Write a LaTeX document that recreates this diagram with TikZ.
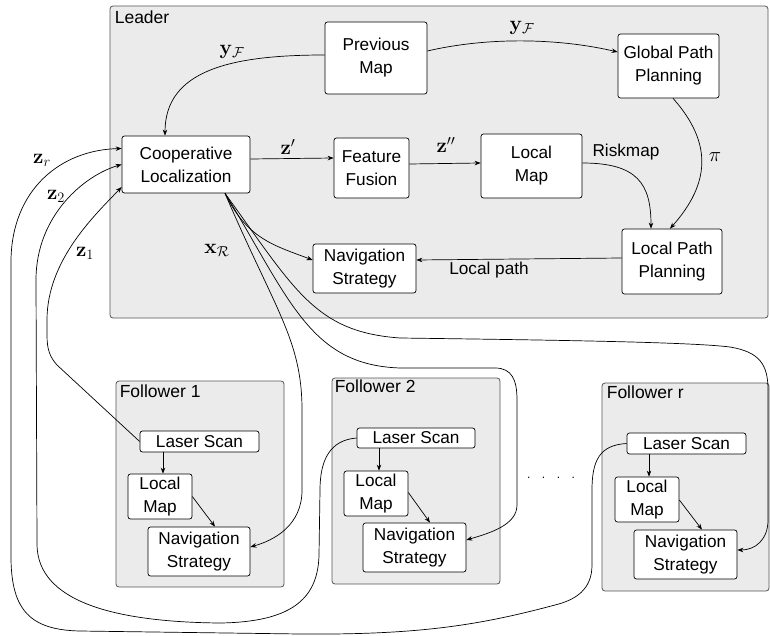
\documentclass[tikz,border=0pt]{standalone}
\usepackage[no-math]{fontspec}
\setmainfont{Liberation Sans}
\usetikzlibrary{arrows.meta,calc}
\definecolor{grpfill}{RGB}{235,235,235}
\definecolor{grpdraw}{RGB}{85,85,85}
\begin{document}
\begin{tikzpicture}[x=1pt,y=-1pt,
 grp/.style={draw=grpdraw, fill=grpfill, rounded corners=3pt, line width=0.8pt, inner sep=0pt},
 bx/.style={draw=black, fill=white, rounded corners=2.5pt, line width=0.7pt, inner sep=0pt, align=center, font=\fontsize{17.2}{23}\selectfont},
 glbl/.style={anchor=base west, inner sep=0pt, font=\fontsize{17.5}{20}\selectfont},
 mlbl/.style={inner sep=0pt, font=\fontsize{22.5}{24}\selectfont},
 tlbl/.style={inner sep=0pt, font=\fontsize{17.2}{20}\selectfont},
 arr/.style={-{Stealth[length=6pt,width=4.5pt]}, line width=0.7pt},
 ln/.style={line width=0.7pt},
]
\useasboundingbox (0,0) rectangle (770,636);

% groups
\node[grp, minimum width=658pt, minimum height=312pt] (leader) at (439,162) {};
\node[grp, minimum width=168pt, minimum height=206pt] (f1) at (200,484) {};
\node[grp, minimum width=168pt, minimum height=206pt] (f2) at (416,481) {};
\node[grp, minimum width=167pt, minimum height=208pt] (fr) at (685.5,487) {};

\node[glbl] (leaderlbl) at ([xshift=5pt,yshift=-18pt]leader.north west) {Leader};
\node[glbl] (f1lbl) at ([xshift=4pt,yshift=-17pt]f1.north west) {Follower 1};
\node[glbl] (f2lbl) at ([xshift=3pt,yshift=-15pt]f2.north west) {Follower 2};
\node[glbl] (frlbl) at ([xshift=5pt,yshift=-16pt]fr.north west) {Follower r};

% leader boxes
\node[bx, minimum width=102pt, minimum height=72pt] (prev) at (376,58) {Previous\\Map};
\node[bx, minimum width=101pt, minimum height=64pt] (gpp) at (668.5,66) {Global Path\\Planning};
\node[bx, minimum width=128pt, minimum height=57pt] (coop) at (186,164.5) {Cooperative\\Localization};
\node[bx, minimum width=75pt, minimum height=60pt] (ff) at (371.5,168) {Feature\\Fusion};
\node[bx, minimum width=101pt, minimum height=64pt] (lm) at (531.5,166) {Local\\Map};
\node[bx, minimum width=100pt, minimum height=65pt] (lpp) at (672,261.5) {Local Path\\Planning};
\node[bx, minimum width=103pt, minimum height=49pt] (ns) at (364.5,268.5) {Navigation\\Strategy};

% follower boxes
\node[bx, minimum width=119pt, minimum height=21pt] (ls1) at (199.5,441.5) {Laser Scan};
\node[bx, minimum width=64pt, minimum height=45pt] (lm1) at (160,496.5) {Local\\Map};
\node[bx, minimum width=102pt, minimum height=49pt] (ns1) at (199,551.5) {Navigation\\Strategy};

\node[bx, minimum width=118pt, minimum height=20pt] (ls2) at (416,438) {Laser Scan};
\node[bx, minimum width=64pt, minimum height=45pt] (lm2) at (376,493.5) {Local\\Map};
\node[bx, minimum width=103pt, minimum height=49pt] (ns2) at (414.5,547.5) {Navigation\\Strategy};

\node[bx, minimum width=119pt, minimum height=21pt] (lsr) at (686.5,443.5) {Laser Scan};
\node[bx, minimum width=64pt, minimum height=45pt] (lmr) at (647,499.5) {Local\\Map};
\node[bx, minimum width=103pt, minimum height=49pt] (nsr) at (685.5,554.5) {Navigation\\Strategy};

\node[inner sep=0pt, anchor=base, font=\fontsize{12}{14}\selectfont] (dots) at (551,478) {.\hspace{11.5pt}.\hspace{11.5pt}.\hspace{11.5pt}.};

% labels
\node[mlbl] (yf1) at (232,52) {$\mathbf{y}_{\mathcal{F}}$};
\node[mlbl] (yf2) at (522,28) {$\mathbf{y}_{\mathcal{F}}$};
\node[mlbl] (zp) at (288,147) {$\mathbf{z}'$};
\node[mlbl] (zpp) at (446,145) {$\mathbf{z}''$};
\node[tlbl] (risk) at (626,152) {Riskmap};
\node[mlbl] (pi) at (715,157) {$\pi$};
\node[tlbl] (lpath) at (489,270) {Local path};
\node[mlbl] (xr) at (217,250) {$\mathbf{x}_{\mathcal{R}}$};
\node[mlbl] (zrl) at (42,160) {$\mathbf{z}_r$};
\node[mlbl] (z2l) at (56,196) {$\mathbf{z}_2$};
\node[mlbl] (z1l) at (85,253) {$\mathbf{z}_1$};

% leader connectors
\coordinate (cs) at ([xshift=39pt]coop.south);
\draw[arr] ([yshift=3pt]prev.west) .. controls +(-95,0) and +(0,-65) .. ([xshift=-21pt]coop.north);
\draw[arr] ([yshift=7pt]prev.east) .. controls +(60,-14) and +(-60,-14) .. ([yshift=14pt]gpp.west);
\draw[arr] ([xshift=4.5pt]gpp.south) .. controls +(40,45) and +(40,-45) .. ([xshift=-2pt]lpp.north);
\draw[arr] ([yshift=3pt]lm.east) .. controls +(55,0) and +(0,-45) .. ([xshift=-21pt]lpp.north);
\draw[arr] ([yshift=5.5pt]coop.east) -- ([yshift=10pt]ff.west);
\draw[arr] ([yshift=4pt]ff.east) -- ([yshift=3pt]lm.west);
\draw[arr] ([yshift=3.5pt]lpp.west) -- ([yshift=8.5pt]ns.east);
\draw[arr] (cs) .. controls +(22,45) and +(-40,-15) .. ([yshift=8.5pt]ns.west);

% leader -> followers
\draw[arr] (cs) .. controls (275,310) and (302,340) .. (302,410) -- (302,490)
  .. controls (302,525) and (275,540) .. ([yshift=4.5pt]ns1.east);
\draw[arr] (cs) .. controls (290,300) and (310,365) .. (400,368) -- (495,368)
  .. controls (512,368) and (517,380) .. (517,400) -- (517,505)
  .. controls (517,525) and (490,533) .. ([yshift=7.5pt]ns2.east);
\draw[arr] (cs) .. controls (295,290) and (315,332) .. (400,338)
  .. controls (550,340) and (690,342) .. (730,347)
  .. controls (760,352) and (768,365) .. (768,390) -- (768,520)
  .. controls (768,540) and (755,550) .. ([yshift=4.5pt]nsr.east);

% followers -> leader
\draw[arr] (ls1.west) -- (57,365) .. controls (50,357) and (47,350) .. (47,335) -- (47,320)
  .. controls (47,260) and (95,215) .. ([yshift=-22.5pt]coop.west);
\draw[arr] (ls2.west) .. controls (330,440) and (320,460) .. (320,490) -- (319,555)
  .. controls (318,600) and (290,622) .. (220,623)
  .. controls (110,622) and (38,600) .. (37,545) -- (36,280)
  .. controls (36,215) and (85,175) .. (coop.west);
\draw[arr] (lsr.west) .. controls (600,445) and (592,460) .. (592,490) -- (592,565)
  .. controls (592,590) and (575,600) .. (555,605)
  .. controls (480,625) and (420,635) .. (300,634) -- (80,631)
  .. controls (30,630) and (12,610) .. (11,560) -- (11,260)
  .. controls (12,190) and (60,150) .. ([yshift=16pt]coop.west);

% follower internals
\coordinate (a1) at ([xshift=3pt]lm1.north);
\draw[arr] (a1 |- ls1.south) -- (a1);
\draw[arr] (lm1.east) -- ([xshift=16pt]ns1.north);
\coordinate (a2) at ([xshift=3pt]lm2.north);
\draw[arr] (a2 |- ls2.south) -- (a2);
\draw[arr] ([yshift=1pt]lm2.east) -- ([xshift=15.5pt]ns2.north);
\coordinate (a3) at ([xshift=2pt]lmr.north);
\draw[arr] (a3 |- lsr.south) -- (a3);
\draw[arr] ([yshift=-0.5pt]lmr.east) -- ([xshift=16.5pt]nsr.north);
\end{tikzpicture}
\end{document}
